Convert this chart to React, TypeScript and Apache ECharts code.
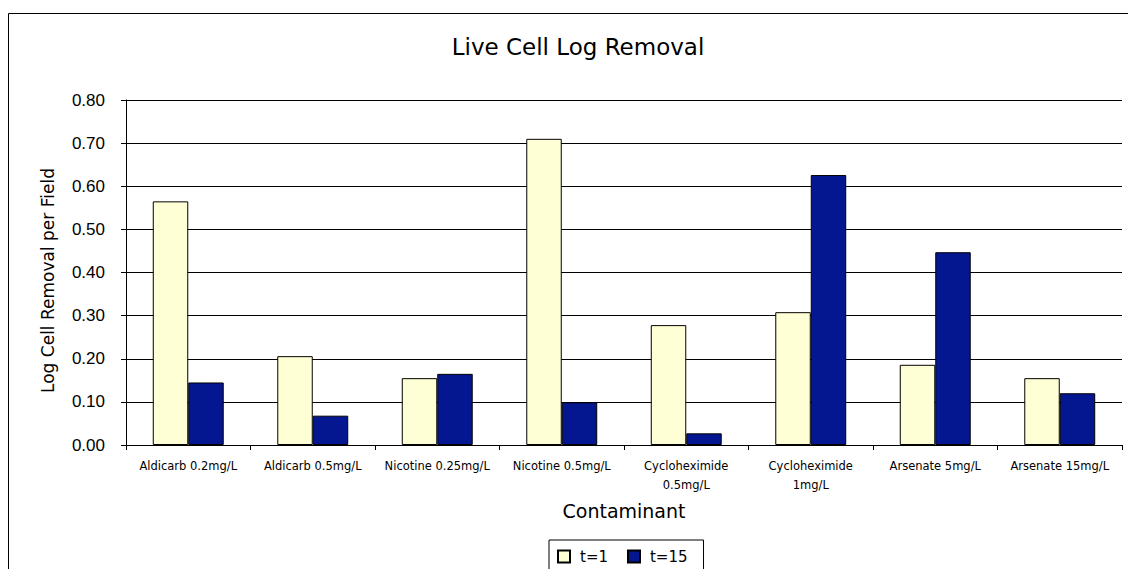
import React, { useEffect, useRef } from "react";
import * as echarts from "echarts";

const categories = [
  "Aldicarb 0.2mg/L",
  "Aldicarb 0.5mg/L",
  "Nicotine 0.25mg/L",
  "Nicotine 0.5mg/L",
  "Cycloheximide\n0.5mg/L",
  "Cycloheximide\n1mg/L",
  "Arsenate 5mg/L",
  "Arsenate 15mg/L",
];
const t1Values = [0.565, 0.206, 0.155, 0.71, 0.278, 0.308, 0.186, 0.155];
const t15Values = [0.145, 0.068, 0.165, 0.099, 0.027, 0.626, 0.447, 0.12];
const seriesNames = ["t=1", "t=15"];
const titleText = "Live Cell Log Removal";
const yAxisTitle = "Log Cell Removal per Field";
const xAxisTitle = "Contaminant";

export default function App() {
  const ref = useRef<HTMLDivElement>(null);
  useEffect(() => {
    if (!ref.current) return;
    const chart = echarts.init(ref.current, null, { renderer: "svg" });
    const arial = "Arial, 'Liberation Sans', sans-serif";
    const wide = "'DejaVu Sans', Arial, sans-serif";
    chart.setOption({
      animation: false,
      backgroundColor: "#ffffff",
      textStyle: { fontFamily: arial, color: "#000" },
      graphic: [
        {
          type: "rect",
          shape: { x: 8.5, y: 13.5, width: 1300, height: 700 },
          style: { fill: "none", stroke: "#000", lineWidth: 1 },
          silent: true,
        },
      ],
      title: {
        text: titleText,
        left: 573,
        textAlign: "center",
        top: 30,
        textStyle: { fontFamily: wide, fontSize: 23, fontWeight: "normal", color: "#000" },
      },
      legend: {
        left: 549,
        top: 540,
        orient: "horizontal",
        borderColor: "#000",
        borderWidth: 1,
        padding: [9, 16, 12, 8],
        itemGap: 19,
        itemWidth: 12,
        itemHeight: 12,
        icon: "rect",
        textStyle: { fontFamily: wide, fontSize: 15, color: "#000", padding: [0, 0, 0, 5] },
        data: seriesNames,
      },
      grid: { left: 126, right: 6, top: 100, bottom: 124, containLabel: false },
      xAxis: {
        type: "category",
        data: categories,
        name: xAxisTitle,
        nameLocation: "middle",
        nameGap: 56,
        nameTextStyle: { fontFamily: wide, fontSize: 19, color: "#000" },
        axisLine: { lineStyle: { color: "#000", width: 1 } },
        axisTick: { show: true, length: 5, lineStyle: { color: "#000" } },
        axisLabel: {
          interval: 0,
          fontFamily: wide,
          fontSize: 11.5,
          color: "#000",
          margin: 11,
          lineHeight: 19,
        },
      },
      yAxis: {
        type: "value",
        min: 0,
        max: 0.8,
        interval: 0.1,
        name: yAxisTitle,
        nameLocation: "middle",
        nameGap: 70,
        nameTextStyle: { fontFamily: wide, fontSize: 17, color: "#000", padding: [0, 16, 0, 0] },
        axisLine: { show: true, lineStyle: { color: "#000", width: 1 } },
        axisTick: { show: true, length: 5, lineStyle: { color: "#000" } },
        axisLabel: {
          fontFamily: arial,
          fontSize: 17,
          color: "#000",
          margin: 21,
          formatter: (v: number) => v.toFixed(2),
        },
        splitLine: { show: true, lineStyle: { color: "#000", width: 1 } },
      },
      series: [
        {
          name: seriesNames[0],
          type: "bar",
          data: t1Values,
          barGap: "0%",
          barCategoryGap: "43%",
          itemStyle: { color: "#FFFFD5", borderColor: "#000", borderWidth: 1 },
        },
        {
          name: seriesNames[1],
          type: "bar",
          data: t15Values,
          itemStyle: { color: "#041790", borderColor: "#000", borderWidth: 1 },
        },
      ],
    });
    return () => chart.dispose();
  }, []);
  return (
    <div
      ref={ref}
      style={{ position: "absolute", left: 0, top: 0, width: 1128, height: 569 }}
    />
  );
}
